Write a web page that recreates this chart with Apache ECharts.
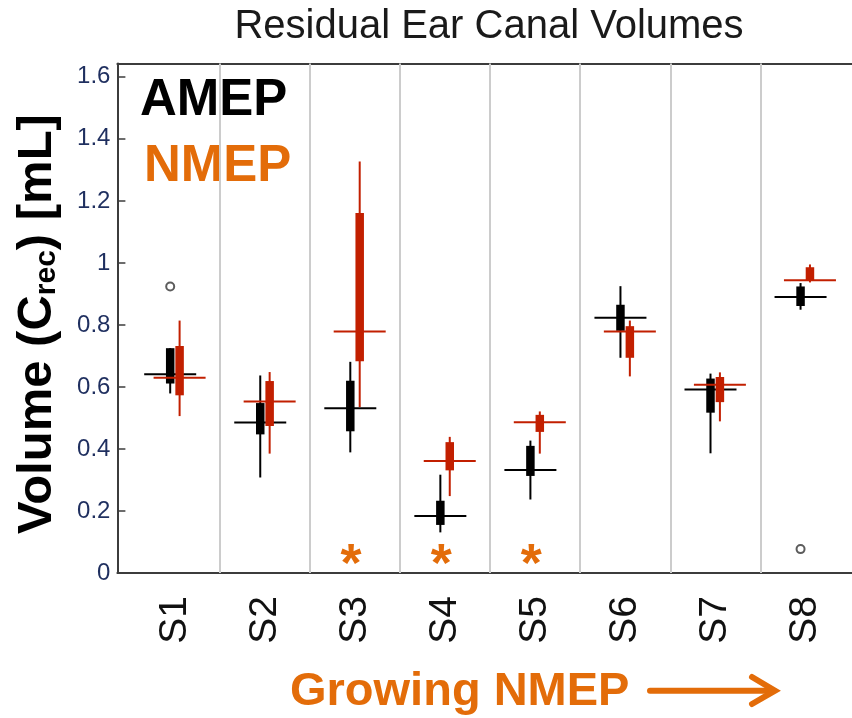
<!DOCTYPE html>
<html>
<head>
<meta charset="utf-8">
<script src="https://cdn.jsdelivr.net/npm/echarts@6/dist/echarts.min.js"></script>
<style>
html,body{margin:0;padding:0;background:#fff;}
#chart{width:852px;height:718px;}
</style>
</head>
<body>
<div id="chart"></div>
<script>
// ---- data ----
const categories = ['S1','S2','S3','S4','S5','S6','S7','S8'];
// AMEP boxes (mL)
const amepMin = [0.579, 0.308, 0.389, 0.131, 0.237, 0.694, 0.386, 0.849];
const amepQ1  = [0.611, 0.447, 0.457, 0.155, 0.313, 0.781, 0.517, 0.861];
const amepMed = [0.641, 0.485, 0.531, 0.184, 0.332, 0.823, 0.592, 0.890];
const amepQ3  = [0.725, 0.548, 0.620, 0.233, 0.410, 0.865, 0.627, 0.924];
const amepMax = [0.725, 0.637, 0.681, 0.317, 0.427, 0.925, 0.643, 0.935];
// NMEP boxes (mL)
const nmepMin = [0.506, 0.385, 0.535, 0.248, 0.385, 0.634, 0.489, 0.937];
const nmepQ1  = [0.573, 0.474, 0.683, 0.331, 0.455, 0.694, 0.551, 0.944];
const nmepMed = [0.630, 0.553, 0.779, 0.361, 0.486, 0.779, 0.607, 0.944];
const nmepQ3  = [0.732, 0.619, 1.161, 0.422, 0.510, 0.796, 0.632, 0.986];
const nmepMax = [0.814, 0.648, 1.327, 0.439, 0.521, 0.814, 0.647, 0.995];
// outliers: [category, value]
const amepOutliers = [['S1', 0.924], ['S8', 0.077]];
// significance marks
const significant = ['S3', 'S4', 'S5'];
const starLevel = 0.064;
const yTicks = [0, 0.2, 0.4, 0.6, 0.8, 1, 1.2, 1.4, 1.6];
const xTicks = categories.map((c, i) => i + 1);

// ---- styles ----
const FONT = '"Liberation Sans", Arial, sans-serif';
const BLACK = '#000000';
const RED = '#c21f00';
const ORANGE = '#e36c09';
const AXIS = '#3c3c3c';

function boxData(mn, q1, md, q3, mx) {
  return categories.map((c, i) => [i + 1, mn[i], q1[i], md[i], q3[i], mx[i]]);
}

function makeRender(color, dx) {
  return function (params, api) {
    const x = api.value(0);
    const pMin = api.coord([x, api.value(1)]);
    const pQ1 = api.coord([x, api.value(2)]);
    const pMed = api.coord([x, api.value(3)]);
    const pQ3 = api.coord([x, api.value(4)]);
    const pMax = api.coord([x, api.value(5)]);
    const cx = pMin[0] + dx;
    const bw = 8.5, mw = 52;
    return {
      type: 'group',
      children: [
        { type: 'line', shape: { x1: cx, y1: pMax[1], x2: cx, y2: pMin[1] },
          style: { stroke: color, lineWidth: 2 } },
        { type: 'rect', shape: { x: cx - bw / 2, y: pQ3[1], width: bw, height: Math.max(pQ1[1] - pQ3[1], 1) },
          style: { fill: color } },
        { type: 'line', shape: { x1: cx - mw / 2, y1: pMed[1], x2: cx + mw / 2, y2: pMed[1] },
          style: { stroke: color, lineWidth: 2 } }
      ]
    };
  };
}

const chart = echarts.init(document.getElementById('chart'), null, { renderer: 'canvas' });

const option = {
  animation: false,
  backgroundColor: '#ffffff',
  grid: { left: 117.4, right: 0, top: 63.5, bottom: 145, containLabel: false },
  xAxis: [
    {
      type: 'value', min: 0.3604, max: 8.518,
      axisLine: { show: true, onZero: false, lineStyle: { color: AXIS, width: 2 } },
      axisTick: { show: false },
      splitLine: { show: false },
      axisLabel: {
        customValues: xTicks,
        formatter: v => categories[Math.round(v) - 1] || '',
        rotate: 90, fontSize: 39, color: '#111', fontFamily: FONT, margin: 23
      }
    },
    {
      type: 'value', min: 0.3604, max: 8.518, position: 'top',
      axisLine: { show: true, onZero: false, lineStyle: { color: AXIS, width: 2 } },
      axisTick: { show: false }, axisLabel: { show: false }, splitLine: { show: false }
    }
  ],
  yAxis: {
    type: 'value', min: 0, max: 1.643,
    axisLine: { show: true, onZero: false, lineStyle: { color: AXIS, width: 2 } },
    axisTick: { show: true, inside: true, length: 8, customValues: yTicks, lineStyle: { color: AXIS, width: 1.5 } },
    axisLabel: { customValues: yTicks, formatter: v => String(Math.round(v * 10) / 10),
      fontSize: 24, color: '#1f2f5f', fontFamily: FONT, margin: 7 },
    splitLine: { show: false }
  },
  series: [
    {
      type: 'line', data: [], silent: true, z: 1,
      markLine: {
        silent: true, symbol: ['none', 'none'], label: { show: false },
        lineStyle: { color: '#cccccc', width: 2, type: 'solid' },
        data: categories.slice(1).map((c, i) => ({ xAxis: i + 1.5 }))
      }
    },
    {
      type: 'custom', name: 'AMEP', z: 3,
      renderItem: makeRender(BLACK, -4.8),
      encode: { x: 0, y: [1, 2, 3, 4, 5] },
      data: boxData(amepMin, amepQ1, amepMed, amepQ3, amepMax)
    },
    {
      type: 'custom', name: 'NMEP', z: 4,
      renderItem: makeRender(RED, 4.6),
      encode: { x: 0, y: [1, 2, 3, 4, 5] },
      data: boxData(nmepMin, nmepQ1, nmepMed, nmepQ3, nmepMax)
    },
    {
      type: 'scatter', z: 5, symbol: 'circle', symbolSize: 8, symbolOffset: [-4.8, 0],
      itemStyle: { color: '#ffffff', borderColor: '#333333', borderWidth: 2 },
      data: amepOutliers.map(o => [categories.indexOf(o[0]) + 1, o[1]])
    },
    {
      type: 'custom', z: 5,
      renderItem: function (params, api) {
        const p = api.coord([api.value(0), api.value(1)]);
        return { type: 'text', x: p[0] - 4, y: p[1] + 13,
          style: { text: '*', fill: ORANGE, font: 'bold 54px ' + FONT, textAlign: 'center', textVerticalAlign: 'middle' } };
      },
      encode: { x: 0, y: 1 },
      data: significant.map(s => [categories.indexOf(s) + 1, starLevel])
    }
  ],
  graphic: [
    { type: 'text', x: 489, y: 27, style: { text: 'Residual Ear Canal Volumes', fill: '#1a1a1a',
      font: '40px ' + FONT, textAlign: 'center', textVerticalAlign: 'middle' } },
    { type: 'text', x: 140, y: 100.5, style: { text: 'AMEP', fill: '#000',
      font: 'bold 51px ' + FONT, textAlign: 'left', textVerticalAlign: 'middle' } },
    { type: 'text', x: 144, y: 166.5, style: { text: 'NMEP', fill: ORANGE,
      font: 'bold 51px ' + FONT, textAlign: 'left', textVerticalAlign: 'middle' } },
    { type: 'text', x: 37, y: 324, rotation: Math.PI / 2,
      style: {
        text: '{a|Volume (C}{b|rec}{a|) [mL]}',
        textAlign: 'center', textVerticalAlign: 'middle', fill: '#000',
        rich: {
          a: { fontSize: 49, fontWeight: 'bold', fontFamily: FONT, fill: '#000', lineHeight: 49 },
          b: { fontSize: 30, fontWeight: 'bold', fontFamily: FONT, fill: '#000', lineHeight: 30, verticalAlign: 'bottom' }
        }
      } },
    { type: 'text', x: 290, y: 692.5, style: { text: 'Growing NMEP', fill: ORANGE,
      font: 'bold 47px ' + FONT, textAlign: 'left', textVerticalAlign: 'middle' } },
    { type: 'polyline', shape: { points: [[650, 690.7], [773, 690.7]] },
      style: { stroke: ORANGE, lineWidth: 6, lineCap: 'round' } },
    { type: 'polyline', shape: { points: [[752, 677], [775, 690.7], [752, 704]] },
      style: { stroke: ORANGE, fill: null, lineWidth: 6, lineCap: 'round', lineJoin: 'miter' } }
  ]
};
chart.setOption(option);
</script>
</body>
</html>
